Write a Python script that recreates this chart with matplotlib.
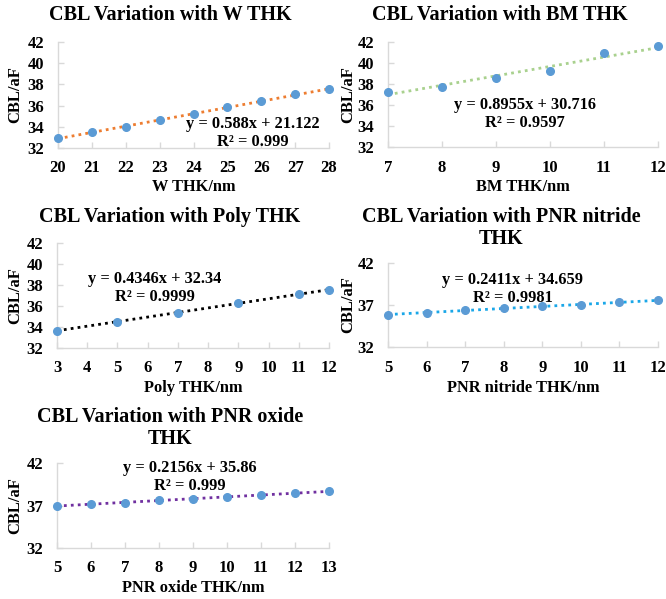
import matplotlib
matplotlib.use("Agg")
import matplotlib.pyplot as plt
import numpy as np

plt.rcParams['font.family'] = ['Liberation Serif', 'DejaVu Serif']
plt.rcParams['font.weight'] = 'bold'

W = 666; H = 599
fig = plt.figure(figsize=(W/100, H/100), dpi=100)

# ---- data ----
w_x = [20, 21, 22, 23, 24, 25, 26, 27, 28]
w_y = [32.9, 33.5, 34.0, 34.6, 35.2, 35.9, 36.4, 37.1, 37.6]
bm_x = [7, 8, 9, 10, 11, 12]
bm_y = [37.25, 37.7, 38.55, 39.2, 40.95, 41.6]
poly_x = [3, 5, 7, 9, 11, 12]
poly_y = [33.65, 34.5, 35.35, 36.25, 37.1, 37.55]
nit_x = [5, 6, 7, 8, 9, 10, 11, 12]
nit_y = [35.8, 36.05, 36.35, 36.6, 36.85, 37.05, 37.3, 37.55]
ox_x = [5, 6, 7, 8, 9, 10, 11, 12, 13]
ox_y = [36.9, 37.15, 37.35, 37.6, 37.8, 38.05, 38.25, 38.45, 38.65]

fit_slopes = [0.588, 0.8955, 0.4346, 0.2411, 0.2156]
fit_intercepts = [21.122, 30.716, 32.34, 34.659, 35.86]
eq_texts = ["y = 0.588x + 21.122\nR² = 0.999",
            "y = 0.8955x + 30.716\nR² = 0.9597",
            "y = 0.4346x + 32.34\nR² = 0.9999",
            "y = 0.2411x + 34.659\nR² = 0.9981",
            "y = 0.2156x + 35.86\nR² = 0.999"]
titles = ["CBL Variation with W THK",
          "CBL Variation with BM THK",
          "CBL Variation with Poly THK",
          "CBL Variation with PNR nitride\nTHK",
          "CBL Variation with PNR oxide\nTHK"]
xlabels = ["W THK/nm", "BM THK/nm", "Poly THK/nm", "PNR nitride THK/nm", "PNR oxide THK/nm"]
xticks_list = [list(range(20, 29)), list(range(7, 13)), list(range(3, 13)),
               list(range(5, 13)), list(range(5, 14))]
yticks_list = [[32, 34, 36, 38, 40, 42]] * 3 + [[32, 37, 42]] * 2
line_colors = ['#ED7D31', '#A9D18E', '#000000', '#1AA7E8', '#7030A0']
xs = [w_x, bm_x, poly_x, nit_x, ox_x]
ys = [w_y, bm_y, poly_y, nit_y, ox_y]

# ---- layout (pixels) ----
boxes = [(58, 329, 42, 148), (388, 658, 42, 147), (57, 329, 243, 348),
         (388, 658, 263, 347), (57, 329, 463, 548)]
title_pos = [(170, 15), (500, 15), (170, 217), (501, 228), (170, 428)]
eq_pos = [(253, 133), (525, 114), (155, 288), (513, 289), (190, 477)]
xlabel_y = [187, 187, 388, 388, 588]
ylabel_x = [15, 348, 15, 348, 15]

def fx(p): return p / W
def fy(p): return 1 - p / H

gray = '#D9D9D9'
for i in range(5):
    l, r, t, b = boxes[i]
    ax = fig.add_axes([fx(l), fy(b), fx(r) - fx(l), (b - t) / H])
    x = np.array(xs[i]); y = np.array(ys[i])
    xl = np.array([xticks_list[i][0], xticks_list[i][-1]])
    ax.plot(xl, fit_slopes[i] * xl + fit_intercepts[i], linestyle=(0, (1, 1.5)),
            color=line_colors[i], lw=2.0, zorder=2, clip_on=False)
    ax.plot(x, y, 'o', color='#5B9BD5', ms=5.5, zorder=3, clip_on=False)
    ax.set_xlim(xticks_list[i][0], xticks_list[i][-1])
    ax.set_ylim(32, 42)
    ax.set_xticks(xticks_list[i])
    ax.set_yticks(yticks_list[i])
    for s in ['top', 'right']:
        ax.spines[s].set_visible(False)
    for s in ['left', 'bottom']:
        ax.spines[s].set_color(gray)
        ax.spines[s].set_linewidth(1.0)
    ax.tick_params(axis='both', direction='in', length=4, color=gray, width=1.0,
                   labelsize=12)
    ax.tick_params(axis='x', pad=9)
    ax.tick_params(axis='y', pad=10)
    for lab in ax.get_xticklabels() + ax.get_yticklabels():
        lab.set_fontweight('bold')
    ax.patch.set_alpha(0)
    fig.text(fx(title_pos[i][0]), fy(title_pos[i][1]), titles[i], ha='center', va='center',
             fontsize=14.5, fontweight='bold', linespacing=1.2)
    fig.text(fx(eq_pos[i][0]), fy(eq_pos[i][1]), eq_texts[i], ha='center', va='center',
             fontsize=11.8, fontweight='bold', linespacing=1.1)
    fig.text(fx((l + r) / 2), fy(xlabel_y[i]), xlabels[i], ha='center', va='center',
             fontsize=11.8, fontweight='bold')
    fig.text(fx(ylabel_x[i]), fy((t + b) / 2), "CBL/aF", ha='center', va='center',
             rotation=90, fontsize=12, fontweight='bold')

fig.savefig("out.png", dpi=100)
